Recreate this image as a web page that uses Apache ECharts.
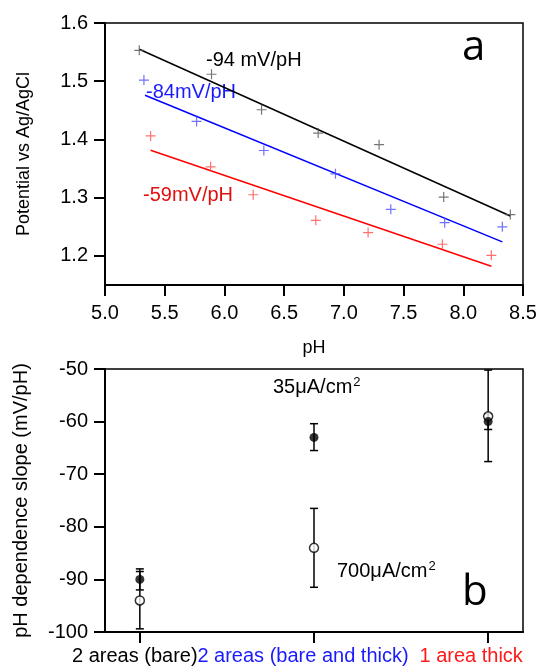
<!DOCTYPE html>
<html>
<head>
<meta charset="utf-8">
<script src="https://cdn.jsdelivr.net/npm/echarts@6/dist/echarts.min.js"></script>
<style>
html,body{margin:0;padding:0;background:#fff;}
#c{width:543px;height:671px;}
</style>
</head>
<body>
<div id="c"></div>
<script>
// ---- Panel a data ----
const blackPH = [5.287, 5.892, 6.311, 6.785, 7.295, 7.836, 8.394];
const blackV  = [1.553, 1.512, 1.451, 1.411, 1.391, 1.301, 1.271];
const bluePH  = [5.326, 5.767, 6.330, 6.930, 7.393, 7.844, 8.327];
const blueV   = [1.502, 1.431, 1.381, 1.341, 1.280, 1.257, 1.250];
const redPH   = [5.382, 5.884, 6.241, 6.765, 7.203, 7.825, 8.235];
const redV    = [1.406, 1.353, 1.305, 1.261, 1.240, 1.220, 1.201];
const blackFit = [[5.287, 1.555], [8.394, 1.2685]];
const blueFit  = [[5.335, 1.4758], [8.327, 1.224]];
const redFit   = [[5.382, 1.3814], [8.235, 1.1822]];
const phTicks = [5.0, 5.5, 6.0, 6.5, 7.0, 7.5, 8.0, 8.5];
const potTicks = [1.2, 1.3, 1.4, 1.5, 1.6];

// ---- Panel b data ----
const categories = ['2 areas (bare)', '2 areas (bare and thick)', '1 area thick'];
const catColors = ['#000000', '#1a1aff', '#ff1a1a'];
const catPos = [1, 2, 3];
const slope35 = [-90, -63, -60];
const err35Low = [-92, -65.5, -61.5];
const err35High = [-88, -60.4, -58.5];
const slope700 = [-94, -84, -59];
const err700Low = [-99.4, -91.5, -67.6];
const err700High = [-88.5, -76.5, -50.2];

const FONT = '"Liberation Sans", Arial, sans-serif';
const zip = (a, b) => a.map((v, i) => [v, b[i]]);
const plusPath = 'path://M4.4,0h1.2v4.4h4.4v1.2h-4.4v4.4h-1.2v-4.4h-4.4v-1.2h4.4z';

function errBars(low, high) {
  return catPos.map((x, i) => [x, low[i], high[i]]);
}
function renderErr(params, api) {
  const x = api.value(0);
  const p1 = api.coord([x, api.value(1)]);
  const p2 = api.coord([x, api.value(2)]);
  const hw = 4;
  const st = { stroke: '#000', lineWidth: 1.5 };
  return {
    type: 'group',
    children: [
      { type: 'line', shape: { x1: p1[0], y1: p1[1], x2: p2[0], y2: p2[1] }, style: st },
      { type: 'line', shape: { x1: p1[0] - hw, y1: p1[1], x2: p1[0] + hw, y2: p1[1] }, style: st },
      { type: 'line', shape: { x1: p2[0] - hw, y1: p2[1], x2: p2[0] + hw, y2: p2[1] }, style: st }
    ]
  };
}

const axisLineStyle = { lineStyle: { color: '#000', width: 2 } };
const tickStyle = { show: true, inside: false, length: 11, lineStyle: { color: '#000', width: 2 } };
const labelBase = { color: '#000', fontSize: 20, fontFamily: FONT, showMinLabel: true, showMaxLabel: true, hideOverlap: false };

const annotations = [
  { type: 'text', left: 206, top: 50, style: { text: '-94 mV/pH', fill: '#000', font: '20px ' + FONT } },
  { type: 'text', left: 146, top: 82, style: { text: '-84mV/pH', fill: '#1a1aff', font: '20px ' + FONT } },
  { type: 'text', left: 143, top: 185, style: { text: '-59mV/pH', fill: '#e01010', font: '20px ' + FONT } },
  { type: 'text', left: 462, top: 27, style: { text: 'a', fill: '#000', font: '42px "Open Sans", sans-serif' } },
  { type: 'text', left: 462, top: 572, style: { text: 'b', fill: '#000', font: '42px "Open Sans", sans-serif' } },
  { type: 'text', left: 273, top: 376, style: { text: '35μA/cm{s|2}', fill: '#000', font: '20px ' + FONT, rich: { s: { fontSize: 13, fontFamily: FONT, fill: '#000', verticalAlign: 'top', padding: [0, 0, 10, 1] } } } },
  { type: 'text', left: 337, top: 560, style: { text: '700μA/cm{s|2}', fill: '#000', font: '20px ' + FONT, rich: { s: { fontSize: 13, fontFamily: FONT, fill: '#000', verticalAlign: 'top', padding: [0, 0, 10, 1] } } } }
];

const chart = echarts.init(document.getElementById('c'), null, { renderer: 'canvas' });
chart.setOption({
  animation: false,
  backgroundColor: '#fff',
  grid: [
    { left: 105, top: 23, width: 418, height: 262, show: true, borderColor: '#000', borderWidth: 1.5, backgroundColor: 'transparent' },
    { left: 105, top: 369, width: 418, height: 263, show: true, borderColor: '#000', borderWidth: 1.5, backgroundColor: 'transparent' }
  ],
  xAxis: [
    {
      gridIndex: 0, type: 'value', min: 5, max: 8.5, interval: 0.5,
      axisLine: axisLineStyle, axisTick: tickStyle, splitLine: { show: false },
      axisLabel: Object.assign({}, labelBase, { margin: 18, formatter: v => v.toFixed(1), customValues: phTicks }),
      name: 'pH', nameLocation: 'middle', nameGap: 54,
      nameTextStyle: { color: '#000', fontSize: 18, fontFamily: FONT }
    },
    {
      gridIndex: 1, type: 'value', min: 0.8, max: 3.2,
      axisLine: axisLineStyle,
      axisTick: Object.assign({}, tickStyle, { customValues: catPos }),
      splitLine: { show: false },
      axisLabel: { show: false }
    }
  ],
  yAxis: [
    {
      gridIndex: 0, type: 'value', min: 1.15, max: 1.6,
      axisLine: axisLineStyle,
      axisTick: Object.assign({}, tickStyle, { customValues: potTicks }),
      splitLine: { show: false },
      axisLabel: Object.assign({}, labelBase, { margin: 17, customValues: potTicks, formatter: v => v.toFixed(1) }),
      name: 'Potential vs Ag/AgCl', nameLocation: 'middle', nameGap: 72,
      nameTextStyle: { color: '#000', fontSize: 18, fontFamily: FONT }
    },
    {
      gridIndex: 1, type: 'value', min: -100, max: -50, interval: 10,
      axisLine: axisLineStyle, axisTick: tickStyle, splitLine: { show: false },
      axisLabel: Object.assign({}, labelBase, { margin: 17 }),
      name: 'pH dependence slope (mV/pH)', nameLocation: 'middle', nameGap: 74,
      nameTextStyle: { color: '#000', fontSize: 20, fontFamily: FONT }
    }
  ],
  series: [
    { type: 'line', xAxisIndex: 0, yAxisIndex: 0, data: blackFit, symbol: 'none', lineStyle: { color: '#000', width: 1.5 }, z: 2 },
    { type: 'line', xAxisIndex: 0, yAxisIndex: 0, data: blueFit, symbol: 'none', lineStyle: { color: '#0000ff', width: 1.5 }, z: 2 },
    { type: 'line', xAxisIndex: 0, yAxisIndex: 0, data: redFit, symbol: 'none', lineStyle: { color: '#ff0000', width: 1.5 }, z: 2 },
    { type: 'scatter', xAxisIndex: 0, yAxisIndex: 0, data: zip(blackPH, blackV), symbol: plusPath, symbolSize: 10, itemStyle: { color: '#555' }, z: 3 },
    { type: 'scatter', xAxisIndex: 0, yAxisIndex: 0, data: zip(bluePH, blueV), symbol: plusPath, symbolSize: 10, itemStyle: { color: '#4d4dff' }, z: 3 },
    { type: 'scatter', xAxisIndex: 0, yAxisIndex: 0, data: zip(redPH, redV), symbol: plusPath, symbolSize: 10, itemStyle: { color: '#ff4d4d' }, z: 3 },
    { type: 'custom', xAxisIndex: 1, yAxisIndex: 1, data: errBars(err700Low, err700High), renderItem: renderErr, encode: { x: 0, y: [1, 2] }, z: 2, clip: false },
    { type: 'custom', xAxisIndex: 1, yAxisIndex: 1, data: errBars(err35Low, err35High), renderItem: renderErr, encode: { x: 0, y: [1, 2] }, z: 2, clip: false },
    { type: 'scatter', xAxisIndex: 1, yAxisIndex: 1, data: zip(catPos, slope700), symbol: 'circle', symbolSize: 9, itemStyle: { color: '#fff', borderColor: '#000', borderWidth: 1.5 }, z: 3 },
    { type: 'scatter', xAxisIndex: 1, yAxisIndex: 1, data: zip(catPos, slope35), symbol: 'circle', symbolSize: 9, itemStyle: { color: '#000' }, z: 4 }
  ],
  graphic: annotations
});

// Category labels placed under the library-computed tick positions
const labelShift = [-5, -11, -17];
const catLabels = categories.map((name, i) => {
  const p = chart.convertToPixel({ xAxisIndex: 1, yAxisIndex: 1 }, [catPos[i], -100]);
  return {
    type: 'text', x: p[0] + labelShift[i], y: p[1] + 14,
    style: { text: name, fill: catColors[i], font: '20px ' + FONT, textAlign: 'center', textVerticalAlign: 'top' }
  };
});
chart.setOption({ graphic: annotations.concat(catLabels) });
</script>
</body>
</html>
